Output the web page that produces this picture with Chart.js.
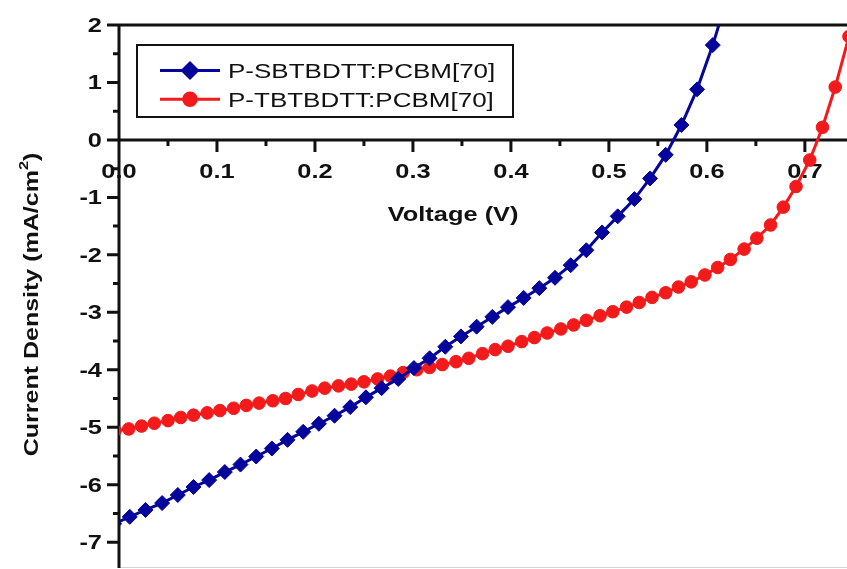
<!DOCTYPE html>
<html>
<head>
<meta charset="utf-8">
<title>J-V curves</title>
<script src="https://cdn.jsdelivr.net/npm/chart.js@4.4.1/dist/chart.umd.min.js"></script>
<style>
  html, body { margin: 0; padding: 0; background: #ffffff; overflow: hidden; }
  canvas { display: block; }
</style>
</head>
<body>
<canvas id="jv" width="847" height="569"></canvas>
<script>
// ---- data -------------------------------------------------------------
const seriesNames = ['P-SBTBDTT:PCBM[70]', 'P-TBTBDTT:PCBM[70]'];
const seriesColors = ['#05059c', '#f21a1a'];

// P-SBTBDTT:PCBM[70]  (voltage in V, current density in mA/cm2)
const sbtVoltage = [-0.005, 0.011, 0.027, 0.044, 0.060, 0.076, 0.092, 0.108, 0.124, 0.140,
                    0.156, 0.172, 0.188, 0.204, 0.220, 0.236, 0.252, 0.268, 0.285, 0.301,
                    0.317, 0.333, 0.349, 0.365, 0.381, 0.397, 0.413, 0.429, 0.445, 0.461,
                    0.477, 0.493, 0.509, 0.526, 0.542, 0.558, 0.574, 0.590, 0.606, 0.622];
const sbtCurrent = [-6.68, -6.56, -6.44, -6.32, -6.18, -6.04, -5.92, -5.78, -5.65, -5.51,
                    -5.37, -5.22, -5.08, -4.94, -4.80, -4.65, -4.48, -4.32, -4.16, -3.97,
                    -3.80, -3.60, -3.42, -3.25, -3.08, -2.91, -2.75, -2.58, -2.40, -2.18,
                    -1.92, -1.61, -1.33, -1.03, -0.67, -0.26, 0.26, 0.88, 1.65, 2.55];

// P-TBTBDTT:PCBM[70]
const tbtVoltage = [-0.004, 0.010, 0.023, 0.036, 0.050, 0.063, 0.076, 0.090, 0.103, 0.117,
                    0.130, 0.143, 0.157, 0.170, 0.183, 0.197, 0.210, 0.224, 0.237, 0.250,
                    0.264, 0.277, 0.290, 0.304, 0.317, 0.330, 0.344, 0.357, 0.371, 0.384,
                    0.397, 0.411, 0.424, 0.437, 0.451, 0.464, 0.477, 0.491, 0.504, 0.518,
                    0.531, 0.544, 0.558, 0.571, 0.584, 0.598, 0.611, 0.624, 0.638, 0.651,
                    0.665, 0.678, 0.691, 0.705, 0.718, 0.731, 0.745];
const tbtCurrent = [-5.06, -5.03, -4.98, -4.93, -4.885, -4.83, -4.79, -4.75, -4.71, -4.67,
                    -4.62, -4.58, -4.54, -4.50, -4.43, -4.37, -4.32, -4.28, -4.25, -4.21,
                    -4.16, -4.11, -4.05, -4.00, -3.96, -3.91, -3.86, -3.80, -3.72, -3.65,
                    -3.59, -3.51, -3.44, -3.36, -3.29, -3.22, -3.14, -3.06, -2.99, -2.91,
                    -2.83, -2.74, -2.66, -2.56, -2.47, -2.35, -2.22, -2.08, -1.90, -1.71,
                    -1.48, -1.17, -0.81, -0.35, 0.22, 0.92, 1.80];

// axis ticks
const xTickValues = [0, 0.1, 0.2, 0.3, 0.4, 0.5, 0.6, 0.7];
const xTickLabels = ['0.0', '0.1', '0.2', '0.3', '0.4', '0.5', '0.6', '0.7'];
const yTickValues = [2, 1, 0, -1, -2, -3, -4, -5, -6, -7];
const yTickLabels = ['2', '1', '0', '-1', '-2', '-3', '-4', '-5', '-6', '-7'];
const xTitle = 'Voltage (V)';
const yTitleParts = ['Current Density (mA/cm', '2', ')'];

// ---- drawing helpers ---------------------------------------------------
const INK = '#111111';
const FONT = '"Liberation Sans", Arial, sans-serif';
const WIDE = 1.27;   // the figure's lettering is set wide

function wideText(ctx, text, x, y, align, font, stretch) {
  const s = stretch || WIDE;
  ctx.save();
  ctx.font = font;
  const w = ctx.measureText(text).width * s;
  let x0 = x;
  if (align === 'center') x0 = x - w / 2;
  else if (align === 'right') x0 = x - w;
  ctx.translate(x0, y);
  ctx.scale(s, 1);
  ctx.textAlign = 'left';
  ctx.textBaseline = 'alphabetic';
  ctx.fillStyle = INK;
  ctx.fillText(text, 0, 0);
  ctx.restore();
  return w;
}

function seg(ctx, x1, y1, x2, y2) {
  ctx.moveTo(x1, y1);
  ctx.lineTo(x2, y2);
}

// Frame, zero line, ticks and axis titles
const axesPlugin = {
  id: 'axesPlugin',
  beforeDatasetsDraw(chart) {
    const { ctx, chartArea: a, scales: { x, y } } = chart;
    const x0 = x.getPixelForValue(0);
    const y0 = y.getPixelForValue(0);
    const major = 12, minor = 6;

    ctx.save();
    // faint lower frame edge
    ctx.strokeStyle = '#d4d4d4';
    ctx.lineWidth = 1;
    ctx.beginPath();
    seg(ctx, x0, a.bottom - 0.5, a.right, a.bottom - 0.5);
    ctx.stroke();

    ctx.strokeStyle = INK;
    ctx.lineWidth = 3;
    ctx.lineCap = 'butt';
    ctx.beginPath();
    seg(ctx, x0 - major, a.top, a.right, a.top);      // top frame
    seg(ctx, x0, a.top - 1.5, x0, a.bottom);           // left axis
    seg(ctx, x0, y0, a.right, y0);                     // zero line (x axis)

    // y ticks, pointing outward
    yTickValues.forEach(v => {
      const py = y.getPixelForValue(v);
      seg(ctx, x0 - major, py, x0, py);
    });
    for (let i = 0; i < yTickValues.length - 1; i++) {
      const py = y.getPixelForValue((yTickValues[i] + yTickValues[i + 1]) / 2);
      seg(ctx, x0 - minor, py, x0, py);
    }
    // x ticks below the zero line
    xTickValues.forEach(v => {
      if (v === 0) return;
      const px = x.getPixelForValue(v);
      seg(ctx, px, y0, px, y0 + major);
    });
    for (let i = 0; i < xTickValues.length - 1; i++) {
      const px = x.getPixelForValue((xTickValues[i] + xTickValues[i + 1]) / 2);
      seg(ctx, px, y0, px, y0 + minor);
    }
    ctx.stroke();

    // tick labels
    const tickFont = 'bold 20px ' + FONT;
    yTickValues.forEach((v, i) => {
      wideText(ctx, yTickLabels[i], x0 - 17, y.getPixelForValue(v) + 7, 'right', tickFont);
    });
    xTickValues.forEach((v, i) => {
      wideText(ctx, xTickLabels[i], x.getPixelForValue(v), y0 + 38, 'center', tickFont);
    });

    // x title, under the tick labels
    wideText(ctx, xTitle, x.getPixelForValue(0.341), y0 + 81, 'center', 'bold 20px ' + FONT);

    // y title, rotated, with a superscript 2
    ctx.save();
    ctx.translate(38, (a.top + a.bottom) / 2 + 8);
    ctx.rotate(-Math.PI / 2);
    const s = 1.25;
    const f1 = 'bold 20px ' + FONT, f2 = 'bold 13px ' + FONT;
    ctx.font = f1;
    const w1 = ctx.measureText(yTitleParts[0]).width * s;
    const w3 = ctx.measureText(yTitleParts[2]).width * s;
    ctx.font = f2;
    const w2 = ctx.measureText(yTitleParts[1]).width * s;
    const total = w1 + w2 + w3;
    let cx = -total / 2;
    wideText(ctx, yTitleParts[0], cx, 0, 'left', f1, s); cx += w1;
    wideText(ctx, yTitleParts[1], cx, -10, 'left', f2, s); cx += w2;
    wideText(ctx, yTitleParts[2], cx, 0, 'left', f1, s);
    ctx.restore();

    ctx.restore();
  }
};

// Boxed legend in the upper left of the plot
const legendPlugin = {
  id: 'legendPlugin',
  afterDatasetsDraw(chart) {
    const { ctx } = chart;
    const box = { left: 137, top: 45, right: 513, bottom: 117 };
    ctx.save();
    ctx.fillStyle = '#ffffff';
    ctx.fillRect(box.left, box.top, box.right - box.left, box.bottom - box.top);
    ctx.strokeStyle = INK;
    ctx.lineWidth = 2;
    ctx.strokeRect(box.left, box.top, box.right - box.left, box.bottom - box.top);

    chart.data.datasets.forEach((ds, i) => {
      const rowY = 70.5 + i * 28.8;
      ctx.strokeStyle = ds.borderColor;
      ctx.lineWidth = 3;
      ctx.beginPath();
      seg(ctx, 160, rowY, 220, rowY);
      ctx.stroke();
      ctx.fillStyle = ds.pointBackgroundColor;
      ctx.strokeStyle = ds.pointBorderColor;
      Chart.helpers.drawPoint(ctx, {
        pointStyle: ds.pointStyle,
        radius: ds.pointRadius,
        rotation: 0,
        borderWidth: 1
      }, 190, rowY);
      wideText(ctx, ds.label, 228, rowY + 7.5, 'left', '20px ' + FONT, 1.3);
    });
    ctx.restore();
  }
};

// ---- chart -------------------------------------------------------------
const toPoints = (xs, ys) => xs.map((v, i) => ({ x: v, y: ys[i] }));

new Chart(document.getElementById('jv'), {
  type: 'line',
  data: {
    datasets: [
      {
        label: seriesNames[0],
        data: toPoints(sbtVoltage, sbtCurrent),
        borderColor: seriesColors[0],
        backgroundColor: seriesColors[0],
        pointBackgroundColor: seriesColors[0],
        pointBorderColor: seriesColors[0],
        pointStyle: 'rectRot',
        pointRadius: 7.5,
        pointBorderWidth: 1,
        borderWidth: 3,
        tension: 0
      },
      {
        label: seriesNames[1],
        data: toPoints(tbtVoltage, tbtCurrent),
        borderColor: seriesColors[1],
        backgroundColor: seriesColors[1],
        pointBackgroundColor: seriesColors[1],
        pointBorderColor: seriesColors[1],
        pointStyle: 'circle',
        pointRadius: 6.3,
        pointBorderWidth: 1,
        borderWidth: 3,
        tension: 0
      }
    ]
  },
  options: {
    responsive: false,
    animation: false,
    devicePixelRatio: 1,
    layout: { autoPadding: false, padding: { left: 119, top: 25, right: 0, bottom: 1 } },
    plugins: { legend: { display: false }, tooltip: { enabled: false } },
    scales: {
      x: { type: 'linear', min: 0, max: 0.743, display: false },
      y: { type: 'linear', min: -7.45, max: 2, display: false }
    }
  },
  plugins: [axesPlugin, legendPlugin]
});
</script>
</body>
</html>
